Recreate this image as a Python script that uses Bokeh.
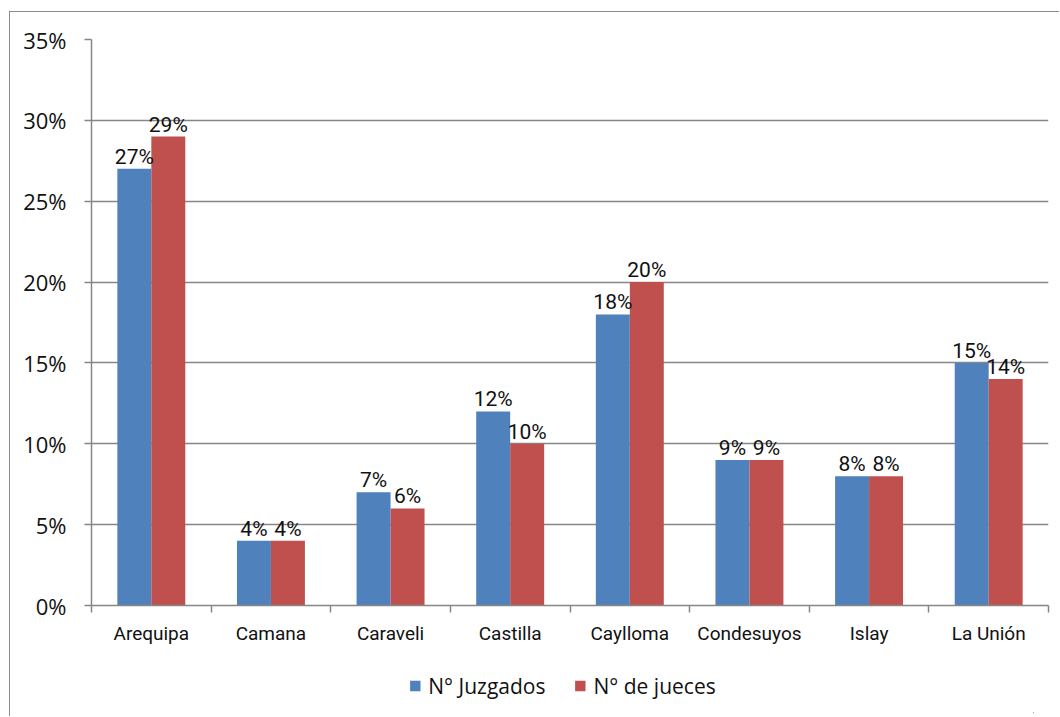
from bokeh.plotting import figure
from bokeh.layouts import column
from bokeh.models import (ColumnDataSource, FixedTicker, NumeralTickFormatter,
                          Legend, LegendItem, Range1d)
from bokeh.transform import dodge
from bokeh.core.properties import value
from bokeh.embed import file_html
from bokeh.resources import INLINE

categories = ["Arequipa", "Camana", "Caraveli", "Castilla", "Caylloma",
              "Condesuyos", "Islay", "La Unión"]
juzgados = [0.27, 0.04, 0.07, 0.12, 0.18, 0.09, 0.08, 0.15]
jueces = [0.29, 0.04, 0.06, 0.10, 0.20, 0.09, 0.08, 0.14]
y_ticks = [0.0, 0.05, 0.10, 0.15, 0.20, 0.25, 0.30, 0.35]
series_names = ["N° Juzgados", "N° de jueces"]

BLUE = "#4F81BD"
RED = "#C0504D"
GRID = "#868686"
NARROW_S = "Roboto"
SANS_S = "Open Sans"

n = len(categories)
centers = [i + 0.5 for i in range(n)]
src = ColumnDataSource(dict(
    x=centers, cat=categories, juz=juzgados, jue=jueces,
    juz_lbl=[f"{v*100:.0f}%" for v in juzgados],
    jue_lbl=[f"{v*100:.0f}%" for v in jueces],
))

p = figure(frame_width=957, frame_height=566, output_backend="svg", toolbar_location=None,
           x_range=Range1d(0, n), y_range=Range1d(0, 0.35),
           min_border_left=81, min_border_right=4, min_border_top=27,
           min_border_bottom=54)
p.outline_line_color = None
p.background_fill_color = "white"
p.border_fill_color = "white"

bw = 0.284
r1 = p.vbar(x=dodge("x", -bw / 2), top="juz", width=bw, source=src,
            fill_color=BLUE, line_color=None)
r2 = p.vbar(x=dodge("x", bw / 2), top="jue", width=bw, source=src,
            fill_color=RED, line_color=None)

for off, col in ((-bw / 2, "juz"), (bw / 2, "jue")):
    p.text(x=dodge("x", off), y=col, text=col + "_lbl", source=src,
           text_align="center", text_baseline="bottom",
           text_font=value(NARROW_S), text_font_size="21px", text_color="#111111")

# x axis
xa = p.xaxis[0]
xa.ticker = FixedTicker(ticks=centers, minor_ticks=list(range(n + 1)))
xa.major_label_overrides = {c: cat for c, cat in zip(centers, categories)}
xa.major_tick_out = 0
xa.major_tick_in = 0
xa.minor_tick_out = 7
xa.minor_tick_in = 0
xa.minor_tick_line_color = GRID
xa.minor_tick_line_width = 1.5
xa.axis_line_color = GRID
xa.axis_line_width = 1.5
xa.major_label_text_font = NARROW_S
xa.major_label_text_font_size = "19px"
xa.major_label_text_color = "#111111"
xa.major_label_standoff = 9

# y axis
ya = p.yaxis[0]
ya.ticker = FixedTicker(ticks=y_ticks)
ya.formatter = NumeralTickFormatter(format="0%")
ya.major_tick_out = 7
ya.major_tick_in = 0
ya.minor_tick_line_color = None
ya.major_tick_line_color = GRID
ya.major_tick_line_width = 1.5
ya.axis_line_color = GRID
ya.axis_line_width = 1.5
ya.major_label_text_font = SANS_S
ya.major_label_text_font_size = "22px"
ya.major_label_text_color = "#111111"
ya.major_label_standoff = 18

p.xgrid.visible = False
p.ygrid.ticker = FixedTicker(ticks=y_ticks)
p.ygrid.grid_line_color = GRID
p.ygrid.grid_line_width = 1.5

# legend strip (series kept out of view so only the legend swatches show)
p2 = figure(width=1049, height=57, output_backend="svg", toolbar_location=None,
            x_range=Range1d(-3, -2), y_range=Range1d(1, 2),
            x_axis_location=None, y_axis_location=None,
            min_border_left=0, min_border_right=26, min_border_top=0,
            min_border_bottom=4)
p2.outline_line_color = None
p2.grid.visible = False
p2.background_fill_color = "white"
p2.border_fill_color = "white"
l1 = p2.vbar(x="x", top="juz", width=bw, source=src, fill_color=BLUE, line_color=None)
l2 = p2.vbar(x="x", top="jue", width=bw, source=src, fill_color=RED, line_color=None)

legend = Legend(items=[LegendItem(label=series_names[0], renderers=[l1]),
                       LegendItem(label=series_names[1], renderers=[l2])],
                orientation="horizontal", location="center",
                label_text_font=SANS_S, label_text_font_size="21px",
                label_text_color="#111111", label_standoff=7,
                glyph_width=13, glyph_height=13, spacing=28,
                border_line_color=None, background_fill_alpha=0,
                margin=0, padding=0)
p2.add_layout(legend, "center")

layout = column(p, p2, spacing=0)
layout.styles = {"margin-left": "9px", "margin-top": "11px",
                 "border-left": "1.5px solid #8c8c8c",
                 "border-top": "1.5px solid #8c8c8c"}

open("out.html", "w").write(file_html(layout, INLINE))
